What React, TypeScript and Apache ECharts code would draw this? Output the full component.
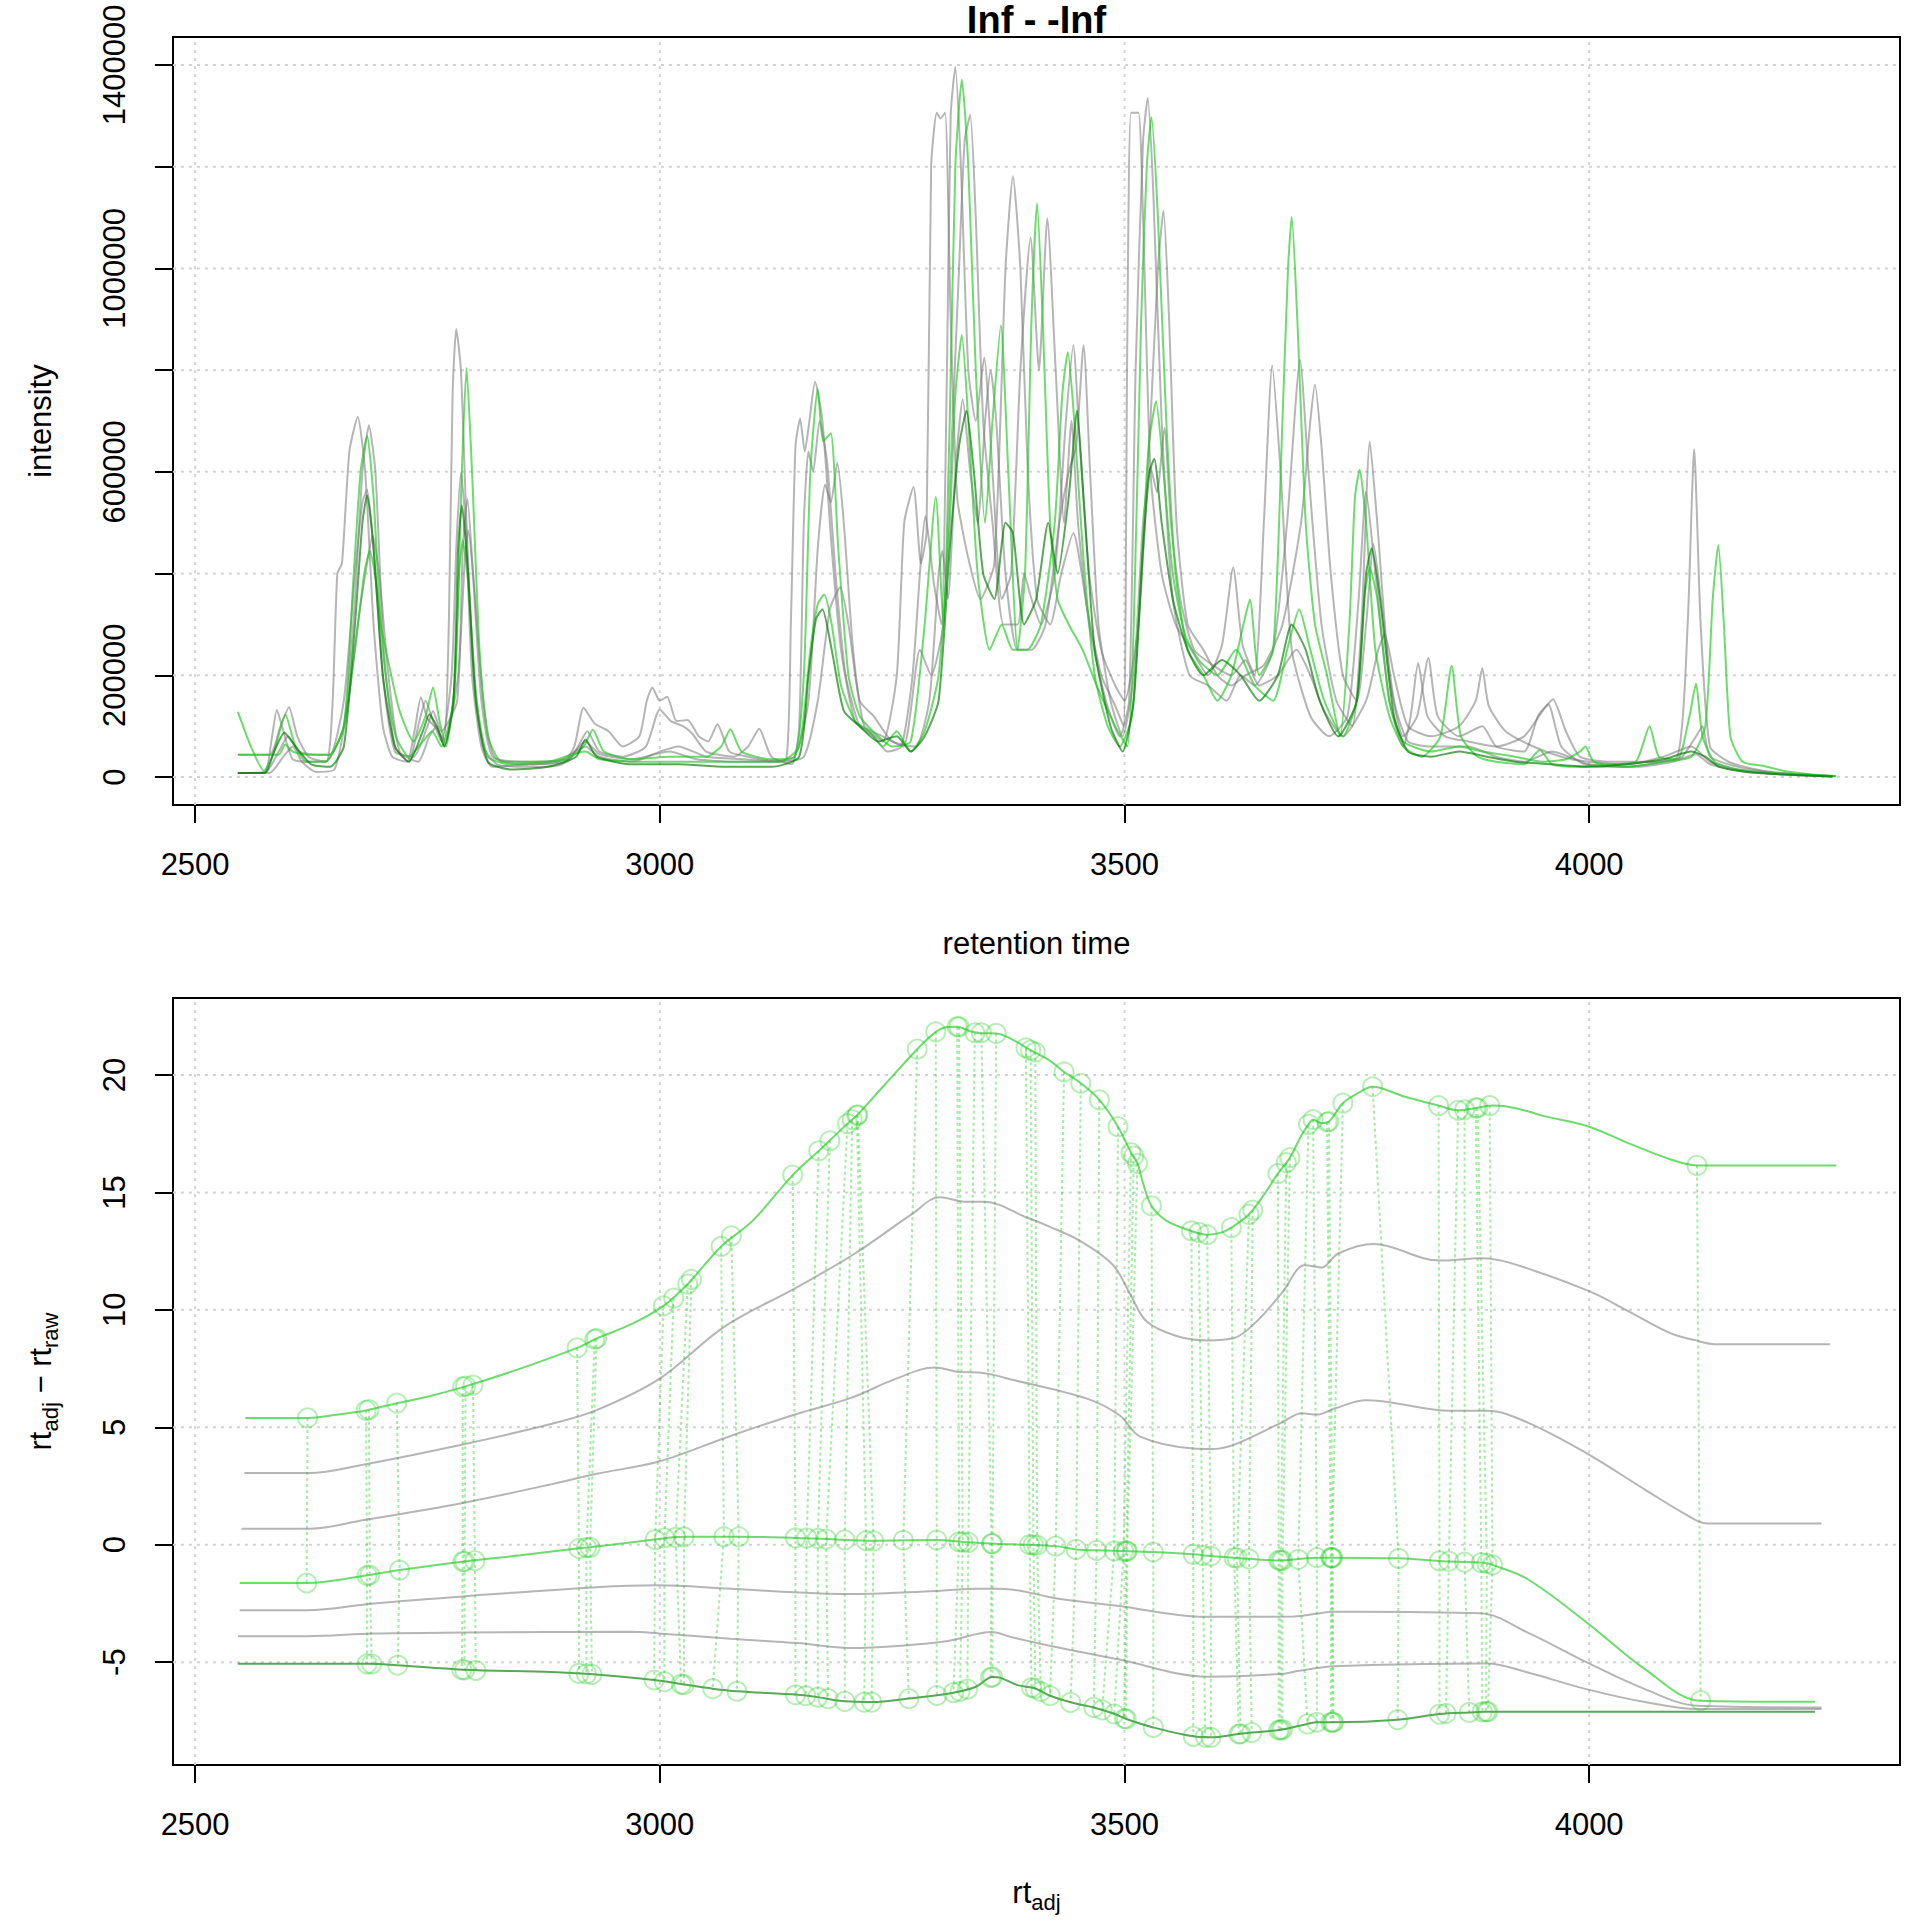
import React, { useEffect, useRef } from 'react';
import * as echarts from 'echarts';

const FONT = "'Liberation Sans', Arial, Helvetica, sans-serif";

// ---------- axes ----------
const X_MIN = 2476.2;
const X_MAX = 4334.5;
const X_TICKS = [2500, 3000, 3500, 4000];
const TOP_Y_MIN = -55000;
const TOP_Y_MAX = 1455000;
const TOP_Y_TICKS = [0, 200000, 400000, 600000, 800000, 1000000, 1200000, 1400000];
const TOP_Y_LABELS = [0, 200000, 600000, 1000000, 1400000];
const BOT_Y_MIN = -9.38;
const BOT_Y_MAX = 23.28;
const BOT_Y_TICKS = [-5, 0, 5, 10, 15, 20];

// ---------- top panel: chromatograms [retention time, intensity] ----------
const chromGrayA = [[2546,8000],[2575,10000],[2582,70000],[2588,132000],[2595,90000],[2605,35000],[2625,30000],[2642,32000],[2648,150000],[2653,400000],[2658,420000],[2666,640000],[2675,708000],[2683,600000],[2692,300000],[2702,100000],[2712,40000],[2728,30000],[2736,90000],[2743,157000],[2750,115000],[2760,95000],[2768,70000],[2773,300000],[2777,750000],[2781,881000],[2786,800000],[2792,500000],[2800,200000],[2810,60000],[2825,25000],[2860,20000],[2895,25000],[2908,60000],[2918,136000],[2930,105000],[2945,90000],[2960,60000],[2978,80000],[2986,150000],[2992,176000],[3000,150000],[3008,158000],[3018,110000],[3030,112000],[3042,80000],[3052,70000],[3062,104000],[3075,50000],[3095,40000],[3120,32000],[3136,35000],[3141,300000],[3146,650000],[3151,705000],[3156,640000],[3161,700000],[3167,777000],[3175,700000],[3185,450000],[3195,250000],[3210,110000],[3225,90000],[3240,70000],[3255,200000],[3263,500000],[3273,570000],[3281,420000],[3287,480000],[3292,1200000],[3298,1306000],[3302,1295000],[3307,1306000],[3313,900000],[3320,550000],[3332,430000],[3345,350000],[3360,420000],[3372,1000000],[3380,1181000],[3388,1000000],[3396,600000],[3406,350000],[3420,300000],[3432,400000],[3445,480000],[3460,330000],[3475,200000],[3490,140000],[3499,100000],[3503,850000],[3507,1306000],[3515,1306000],[3520,1100000],[3528,600000],[3540,400000],[3555,300000],[3572,250000],[3590,200000],[3605,260000],[3617,412000],[3627,260000],[3640,200000],[3650,500000],[3659,809000],[3668,600000],[3680,250000],[3700,120000],[3720,80000],[3740,120000],[3752,350000],[3760,561000],[3770,400000],[3785,150000],[3800,60000],[3808,120000],[3816,224000],[3826,120000],[3845,80000],[3870,70000],[3900,60000],[3930,80000],[3950,130000],[3961,153000],[3975,90000],[3990,40000],[4020,30000],[4060,30000],[4095,40000],[4106,300000],[4113,645000],[4120,300000],[4130,60000],[4150,30000],[4180,15000],[4220,6000],[4265,2000]];

const chromGrayB = [[2546,44000],[2580,44000],[2592,100000],[2601,137000],[2610,80000],[2622,40000],[2640,30000],[2660,100000],[2672,350000],[2680,600000],[2687,691000],[2694,600000],[2703,250000],[2715,60000],[2730,30000],[2740,100000],[2748,150000],[2756,110000],[2765,70000],[2776,200000],[2781,450000],[2786,598000],[2791,500000],[2798,200000],[2808,60000],[2820,20000],[2860,25000],[2900,30000],[2912,60000],[2922,90000],[2935,50000],[2960,40000],[2985,60000],[3000,133000],[3012,110000],[3025,100000],[3035,85000],[3050,50000],[3080,40000],[3095,60000],[3107,95000],[3120,40000],[3142,25000],[3150,100000],[3155,500000],[3160,640000],[3165,600000],[3172,700000],[3180,620000],[3190,380000],[3200,200000],[3215,100000],[3230,80000],[3245,50000],[3260,60000],[3272,200000],[3286,513000],[3295,380000],[3303,300000],[3309,800000],[3313,1300000],[3318,1396000],[3324,1200000],[3332,800000],[3340,700000],[3349,825000],[3358,600000],[3368,350000],[3378,400000],[3388,800000],[3399,1061000],[3408,800000],[3417,1098000],[3426,800000],[3435,500000],[3443,700000],[3450,500000],[3462,300000],[3480,150000],[3495,80000],[3505,150000],[3512,800000],[3520,1250000],[3525,1335000],[3531,1150000],[3540,700000],[3552,350000],[3570,200000],[3590,180000],[3610,150000],[3625,200000],[3640,180000],[3660,250000],[3675,500000],[3689,820000],[3698,600000],[3712,300000],[3728,150000],[3745,100000],[3755,300000],[3764,659000],[3772,500000],[3785,200000],[3800,80000],[3815,120000],[3827,234000],[3837,120000],[3860,80000],[3885,100000],[3900,60000],[3930,50000],[3945,120000],[3956,143000],[3970,60000],[3995,25000],[4040,20000],[4080,30000],[4100,40000],[4115,80000],[4122,100000],[4130,40000],[4160,20000],[4200,8000],[4262,2000]];

const chromGrayC = [[2546,8000],[2575,8000],[2590,50000],[2600,80000],[2612,50000],[2630,44000],[2645,44000],[2660,150000],[2672,400000],[2680,540000],[2685,565000],[2692,450000],[2702,200000],[2715,50000],[2735,40000],[2750,100000],[2756,130000],[2765,90000],[2782,150000],[2788,450000],[2793,547000],[2799,400000],[2808,150000],[2820,40000],[2850,30000],[2900,35000],[2920,70000],[2935,45000],[2970,35000],[3010,50000],[3040,35000],[3080,30000],[3120,30000],[3145,40000],[3160,150000],[3170,450000],[3178,575000],[3184,540000],[3191,618000],[3198,500000],[3208,250000],[3220,100000],[3240,80000],[3262,60000],[3280,250000],[3292,200000],[3305,300000],[3315,700000],[3322,1000000],[3328,1250000],[3334,1302000],[3340,1100000],[3348,700000],[3358,500000],[3370,300000],[3385,300000],[3392,400000],[3400,350000],[3410,300000],[3425,400000],[3437,700000],[3445,849000],[3452,650000],[3462,400000],[3475,250000],[3490,180000],[3500,150000],[3515,300000],[3528,700000],[3536,1000000],[3542,1114000],[3548,900000],[3556,500000],[3568,300000],[3585,250000],[3600,200000],[3615,180000],[3630,200000],[3650,220000],[3670,300000],[3690,500000],[3700,700000],[3705,772000],[3712,650000],[3722,400000],[3735,200000],[3750,150000],[3760,300000],[3768,458000],[3776,350000],[3790,150000],[3805,70000],[3830,60000],[3870,60000],[3900,40000],[3930,30000],[3960,50000],[4000,25000],[4050,20000],[4090,30000],[4115,45000],[4130,25000],[4170,10000],[4220,4000],[4262,1000]];

const chromGrayD = [[2546,8000],[2580,8000],[2595,40000],[2605,60000],[2615,30000],[2630,10000],[2650,15000],[2665,150000],[2675,300000],[2685,420000],[2691,475000],[2698,400000],[2708,200000],[2720,50000],[2740,30000],[2752,80000],[2760,100000],[2768,60000],[2783,200000],[2790,420000],[2794,485000],[2800,380000],[2810,150000],[2822,40000],[2850,25000],[2890,30000],[2920,60000],[2935,40000],[2970,30000],[3000,50000],[3020,60000],[3050,40000],[3090,35000],[3130,30000],[3155,40000],[3170,150000],[3183,330000],[3194,373000],[3203,300000],[3215,150000],[3230,120000],[3250,70000],[3275,60000],[3290,150000],[3300,400000],[3304,445000],[3310,350000],[3318,600000],[3326,743000],[3334,600000],[3342,500000],[3350,700000],[3356,800000],[3362,700000],[3372,400000],[3385,250000],[3400,250000],[3415,300000],[3430,500000],[3440,600000],[3448,650000],[3456,849000],[3463,600000],[3472,300000],[3485,150000],[3498,80000],[3510,200000],[3520,500000],[3528,609000],[3535,560000],[3543,686000],[3550,500000],[3560,350000],[3575,250000],[3595,220000],[3615,200000],[3630,230000],[3645,180000],[3665,200000],[3685,250000],[3700,200000],[3715,130000],[3735,80000],[3760,150000],[3773,250000],[3780,280000],[3790,200000],[3805,100000],[3830,80000],[3860,100000],[3878,150000],[3885,214000],[3892,140000],[3910,90000],[3940,60000],[3970,40000],[4000,30000],[4040,25000],[4080,40000],[4110,60000],[4130,30000],[4160,15000],[4210,5000],[4262,1000]];

const chromGreen1 = [[2546,128000],[2560,60000],[2574,12000],[2585,50000],[2597,123000],[2608,60000],[2620,30000],[2640,30000],[2660,100000],[2670,380000],[2678,600000],[2685,671000],[2692,550000],[2700,300000],[2710,209000],[2720,130000],[2735,70000],[2748,120000],[2756,176000],[2763,110000],[2770,60000],[2780,200000],[2787,600000],[2792,804000],[2798,600000],[2806,250000],[2815,80000],[2830,30000],[2860,30000],[2900,35000],[2918,60000],[2928,93000],[2940,50000],[2970,35000],[3010,40000],[3050,40000],[3066,60000],[3076,94000],[3088,50000],[3120,35000],[3145,40000],[3155,200000],[3162,600000],[3170,763000],[3176,660000],[3184,676000],[3192,450000],[3203,200000],[3215,120000],[3235,80000],[3250,60000],[3270,70000],[3285,300000],[3297,551000],[3305,300000],[3312,700000],[3318,1200000],[3325,1371000],[3332,1200000],[3340,800000],[3350,500000],[3358,700000],[3367,888000],[3375,600000],[3385,250000],[3393,400000],[3400,900000],[3406,1128000],[3412,900000],[3420,500000],[3428,350000],[3440,300000],[3455,250000],[3470,180000],[3490,100000],[3503,60000],[3510,300000],[3518,900000],[3524,1200000],[3529,1297000],[3536,1100000],[3545,700000],[3555,400000],[3568,250000],[3585,200000],[3600,150000],[3615,200000],[3628,300000],[3635,349000],[3645,200000],[3660,250000],[3670,700000],[3676,1000000],[3680,1101000],[3686,900000],[3695,500000],[3705,300000],[3718,200000],[3732,80000],[3742,300000],[3748,550000],[3753,604000],[3760,500000],[3770,250000],[3785,120000],[3800,60000],[3820,40000],[3840,80000],[3852,219000],[3862,80000],[3880,40000],[3900,30000],[3930,25000],[3947,53000],[3960,25000],[3990,20000],[4020,25000],[4050,30000],[4065,100000],[4075,40000],[4095,35000],[4108,120000],[4115,184000],[4122,80000],[4135,30000],[4160,15000],[4200,8000],[4265,2000]];

const chromGreen2 = [[2546,44000],[2590,44000],[2597,64000],[2605,50000],[2620,44000],[2645,44000],[2660,100000],[2672,250000],[2682,400000],[2688,445000],[2695,380000],[2705,200000],[2716,80000],[2730,40000],[2745,70000],[2755,90000],[2765,60000],[2778,150000],[2784,400000],[2788,465000],[2794,380000],[2803,150000],[2815,40000],[2840,25000],[2880,30000],[2920,50000],[2935,35000],[2980,30000],[3030,30000],[3080,30000],[3130,30000],[3150,60000],[3162,250000],[3170,340000],[3177,359000],[3185,300000],[3195,180000],[3210,110000],[3225,90000],[3240,60000],[3255,90000],[3270,50000],[3285,90000],[3300,200000],[3312,500000],[3318,750000],[3325,869000],[3332,700000],[3342,400000],[3355,250000],[3368,300000],[3380,250000],[3395,250000],[3410,300000],[3425,500000],[3433,750000],[3439,835000],[3446,700000],[3455,450000],[3468,200000],[3482,100000],[3495,60000],[3508,120000],[3518,400000],[3526,650000],[3534,739000],[3542,600000],[3552,400000],[3565,280000],[3580,230000],[3600,200000],[3620,250000],[3640,180000],[3660,150000],[3675,250000],[3688,330000],[3700,250000],[3715,150000],[3735,80000],[3750,150000],[3758,350000],[3764,412000],[3772,350000],[3785,150000],[3800,70000],[3830,50000],[3860,60000],[3885,50000],[3920,40000],[3950,30000],[3975,35000],[3990,50000],[3996,60000],[4005,30000],[4040,20000],[4080,30000],[4110,40000],[4125,100000],[4133,350000],[4139,456000],[4145,300000],[4152,80000],[4165,30000],[4187,22000],[4210,12000],[4240,5000],[4266,1000]];

const chromGreen3 = [[2546,8000],[2575,8000],[2585,50000],[2596,87000],[2608,60000],[2625,25000],[2645,20000],[2660,60000],[2672,300000],[2680,500000],[2685,554000],[2692,450000],[2702,200000],[2715,60000],[2730,30000],[2745,90000],[2752,123000],[2760,100000],[2768,60000],[2778,150000],[2783,450000],[2787,534000],[2793,420000],[2802,150000],[2815,30000],[2840,15000],[2880,20000],[2910,40000],[2920,74000],[2932,40000],[2970,25000],[3020,25000],[3070,20000],[3120,20000],[3150,40000],[3160,200000],[3168,310000],[3175,330000],[3185,250000],[3198,130000],[3215,100000],[3235,70000],[3255,80000],[3270,50000],[3285,80000],[3300,150000],[3312,450000],[3322,650000],[3330,720000],[3338,600000],[3348,400000],[3360,350000],[3372,500000],[3380,480000],[3392,300000],[3405,350000],[3418,500000],[3428,400000],[3440,550000],[3449,720000],[3456,550000],[3468,250000],[3485,100000],[3498,50000],[3510,150000],[3520,450000],[3527,600000],[3532,626000],[3540,500000],[3552,350000],[3568,250000],[3585,200000],[3605,230000],[3625,200000],[3645,150000],[3665,200000],[3680,300000],[3695,250000],[3710,150000],[3730,80000],[3750,150000],[3760,400000],[3766,450000],[3775,350000],[3790,120000],[3805,50000],[3830,40000],[3860,50000],[3890,40000],[3920,30000],[3960,25000],[4000,20000],[4040,25000],[4080,35000],[4110,50000],[4125,40000],[4140,20000],[4170,10000],[4210,5000],[4262,1000]];

// ---------- bottom panel: rt_adj - rt_raw curves [rt_adj, difference] ----------
const adjGreenTop = [[2554,5.4],[2621,5.4],[2650,5.52],[2685,5.73],[2717,6.02],[2750,6.3],[2790,6.73],[2850,7.5],[2911,8.38],[2932,8.78],[2970,9.4],[3004,10.17],[3030,11.1],[3066,12.7],[3100,13.8],[3143,15.74],[3171,16.77],[3202,17.93],[3212,18.28],[3240,19.5],[3277,21.1],[3297,21.84],[3310,22.05],[3320,22.06],[3335,21.85],[3346,21.78],[3362,21.77],[3380,21.5],[3399,21.06],[3420,20.6],[3435,20.13],[3453,19.65],[3473,18.94],[3493,17.8],[3507,16.7],[3514,16.24],[3520,15.4],[3529,14.43],[3545,13.8],[3572,13.36],[3589,13.2],[3605,13.3],[3615,13.5],[3634,14.07],[3650,14.9],[3665,15.8],[3678,16.48],[3690,17.4],[3698,17.9],[3703,18.1],[3712,17.95],[3720,18.02],[3735,18.8],[3750,19.2],[3767,19.5],[3800,19.1],[3838,18.7],[3859,18.5],[3878,18.6],[3897,18.7],[3920,18.6],[3952,18.25],[4000,17.8],[4042,17.1],[4088,16.4],[4116,16.15],[4266,16.15]];
const adjGray1 = [[2553,3.05],[2622,3.05],[2682,3.42],[2788,4.27],[2884,5.15],[2932,5.73],[2999,7.05],[3070,9.3],[3147,10.95],[3210,12.4],[3272,14.1],[3301,14.8],[3330,14.6],[3349,14.6],[3397,13.9],[3416,13.6],[3454,12.9],[3488,11.9],[3507,10.6],[3524,9.5],[3555,8.9],[3589,8.7],[3618,8.8],[3642,9.5],[3669,10.7],[3694,11.9],[3705,11.85],[3712,11.8],[3730,12.4],[3768,12.8],[3839,12.1],[3884,12.2],[3915,12.0],[4000,10.8],[4042,9.95],[4088,9.0],[4115,8.7],[4135,8.54],[4259,8.54]];
const adjGray2 = [[2550,0.68],[2622,0.68],[2682,1.05],[2788,1.78],[2884,2.58],[2932,3.02],[2999,3.54],[3076,4.63],[3148,5.58],[3205,6.24],[3253,7.05],[3296,7.55],[3322,7.36],[3344,7.33],[3382,7.0],[3461,6.2],[3495,5.5],[3517,4.6],[3574,4.1],[3596,4.08],[3618,4.26],[3669,5.2],[3691,5.6],[3707,5.54],[3726,5.8],[3760,6.15],[3852,5.7],[3890,5.7],[3934,5.2],[3997,3.9],[4060,2.35],[4101,1.36],[4127,0.9],[4250,0.9]];
const adjGreenMid = [[2548,-1.63],[2620,-1.63],[2686,-1.3],[2720,-1.08],[2789,-0.71],[2850,-0.45],[2913,-0.15],[2925,-0.11],[2994,0.22],[3009,0.3],[3028,0.34],[3085,0.34],[3146,0.29],[3179,0.24],[3230,0.17],[3298,0.2],[3332,0.1],[3366,0.03],[3398,0.0],[3426,-0.06],[3448,-0.2],[3470,-0.24],[3502,-0.27],[3531,-0.31],[3574,-0.41],[3593,-0.48],[3618,-0.55],[3634,-0.6],[3668,-0.67],[3685,-0.62],[3707,-0.55],[3723,-0.55],[3795,-0.58],[3839,-0.69],[3868,-0.74],[3887,-0.77],[3896,-0.86],[3934,-1.47],[3997,-3.3],[4060,-5.3],[4120,-6.64],[4243,-6.69]];
const adjGray3 = [[2548,-2.79],[2620,-2.79],[2692,-2.5],[2788,-2.2],[2932,-1.81],[2999,-1.73],[3076,-1.88],[3205,-2.1],[3280,-2.0],[3340,-1.88],[3366,-1.87],[3429,-2.3],[3492,-2.6],[3587,-3.07],[3682,-3.06],[3726,-2.85],[3745,-2.85],[3883,-2.92],[3934,-3.74],[3997,-5.0],[4060,-6.15],[4117,-6.86],[4250,-6.93]];
const adjGray4 = [[2546,-3.9],[2620,-3.9],[2692,-3.78],[2788,-3.74],[2970,-3.71],[2999,-3.78],[3076,-4.0],[3148,-4.19],[3205,-4.4],[3260,-4.3],[3310,-4.1],[3357,-3.72],[3380,-3.95],[3429,-4.38],[3492,-4.87],[3590,-5.62],[3669,-5.5],[3688,-5.37],[3726,-5.18],[3890,-5.06],[3934,-5.44],[3997,-6.15],[4060,-6.7],[4117,-7.0],[4250,-7.0]];
const adjGreenLow = [[2546,-5.07],[2686,-5.07],[2717,-5.13],[2788,-5.32],[2884,-5.42],[2925,-5.51],[2994,-5.76],[3026,-5.95],[3057,-6.13],[3083,-6.24],[3148,-6.39],[3170,-6.49],[3199,-6.67],[3228,-6.7],[3268,-6.55],[3316,-6.3],[3340,-6.05],[3358,-5.63],[3366,-5.66],[3385,-5.98],[3404,-6.12],[3420,-6.43],[3442,-6.71],[3467,-6.93],[3489,-7.2],[3502,-7.42],[3531,-7.78],[3574,-8.16],[3593,-8.2],[3623,-8.06],[3637,-8.0],[3668,-7.88],[3697,-7.63],[3707,-7.56],[3724,-7.56],[3794,-7.45],[3839,-7.21],[3871,-7.14],[3889,-7.11],[4243,-7.11]];

// ---------- bottom panel: peak groups (one entry per group, per green sample) ----------
const grpRtTop = [2621,2684,2687,2717,2788,2791,2799,2911,2930,2932,3004,3015,3030,3034,3066,3077,3143,3171,3183,3202,3207,3212,3213,3277,3297,3320,3322,3339,3346,3362,3394,3399,3404,3435,3453,3473,3493,3507,3510,3514,3529,3572,3580,3589,3615,3634,3638,3665,3674,3678,3698,3703,3718,3720,3735,3767,3838,3859,3866,3878,3880,3893,4116];
const grpAdjTop = [5.40,5.72,5.75,6.03,6.72,6.75,6.80,8.38,8.75,8.78,10.17,10.50,11.10,11.30,12.70,13.15,15.74,16.77,17.20,17.93,18.10,18.28,18.30,21.10,21.84,22.06,22.05,21.80,21.80,21.77,21.16,21.06,20.98,20.13,19.65,18.94,17.80,16.70,16.55,16.24,14.43,13.36,13.30,13.20,13.50,14.07,14.25,15.80,16.27,16.48,17.90,18.10,18.00,18.02,18.80,19.50,18.70,18.50,18.52,18.60,18.60,18.70,16.15];
const grpRtMid = [2620,2685,2688,2720,2788,2790,2801,2913,2921,2925,2995,3005,3017,3026,3069,3085,3146,3158,3170,3179,3199,3222,3230,3262,3298,3322,3326,3332,3357,3358,3398,3402,3406,3426,3448,3470,3489,3499,3502,3503,3531,3574,3584,3593,3618,3621,3634,3666,3668,3670,3687,3707,3722,3724,3723,3795,3839,3849,3866,3884,3890,3896,4120];
const grpAdjMid = [-1.63,-1.31,-1.29,-1.08,-0.72,-0.71,-0.68,-0.16,-0.12,-0.11,0.22,0.29,0.31,0.33,0.34,0.34,0.29,0.29,0.27,0.24,0.21,0.17,0.16,0.19,0.20,0.12,0.11,0.10,0.05,0.05,0.00,-0.01,-0.02,-0.06,-0.20,-0.24,-0.26,-0.27,-0.27,-0.27,-0.31,-0.41,-0.45,-0.48,-0.55,-0.56,-0.60,-0.66,-0.67,-0.67,-0.62,-0.55,-0.55,-0.55,-0.55,-0.58,-0.69,-0.70,-0.74,-0.76,-0.80,-0.86,-6.64];
const grpRtLow = [null,2685,2690,2718,2787,2790,2802,2913,2921,2927,2994,3005,3023,3026,3057,3083,3146,3157,3170,3181,3199,3220,3228,3268,3298,3316,3323,3331,3356,3358,3400,3404,3410,3420,3442,3467,3476,3489,3500,3502,3531,3574,3587,3593,3623,3625,3637,3666,3668,3670,3697,3707,3722,3725,3724,3794,3839,3846,3871,3885,3889,3891,null];
const grpAdjLow = [null,-5.07,-5.07,-5.13,-5.32,-5.33,-5.35,-5.48,-5.50,-5.52,-5.76,-5.83,-5.94,-5.96,-6.13,-6.24,-6.39,-6.43,-6.49,-6.55,-6.67,-6.70,-6.70,-6.55,-6.42,-6.30,-6.25,-6.15,-5.65,-5.63,-6.08,-6.12,-6.25,-6.43,-6.71,-6.93,-7.03,-7.20,-7.40,-7.42,-7.78,-8.16,-8.19,-8.20,-8.06,-8.05,-8.00,-7.89,-7.88,-7.87,-7.63,-7.56,-7.56,-7.56,-7.56,-7.45,-7.21,-7.18,-7.14,-7.12,-7.11,-7.11,null];

// ---------- styles ----------
const GRAY = 'rgba(120,120,120,0.55)';
const LIGHT_GREEN = 'rgba(30,200,30,0.65)';
const DARK_GREEN = 'rgba(0,120,0,0.65)';
const CIRCLE_GREEN = 'rgba(40,205,40,0.42)';
const GRID_COLOR = '#d3d3d3';

function buildOption() {
  const series: any[] = [];

  // grid lines (R grid(): lightgray dotted)
  const gridLine = (gi: number, data: number[][]) => ({
    type: 'line', xAxisIndex: gi, yAxisIndex: gi, data, symbol: 'none', silent: true, z: 1,
    lineStyle: { color: GRID_COLOR, width: 2, type: [3, 5] },
  });
  X_TICKS.forEach((t) => {
    series.push(gridLine(0, [[t, TOP_Y_MIN], [t, TOP_Y_MAX]]));
    series.push(gridLine(1, [[t, BOT_Y_MIN], [t, BOT_Y_MAX]]));
  });
  TOP_Y_TICKS.forEach((v) => series.push(gridLine(0, [[X_MIN, v], [X_MAX, v]])));
  BOT_Y_TICKS.forEach((v) => series.push(gridLine(1, [[X_MIN, v], [X_MAX, v]])));

  const curve = (gi: number, data: number[][], color: string, smooth: number) => ({
    type: 'line', xAxisIndex: gi, yAxisIndex: gi, data, symbol: 'none', showSymbol: false,
    smooth, silent: true, z: 2, lineStyle: { color, width: 2 },
  });

  // top panel
  [chromGrayA, chromGrayB, chromGrayC, chromGrayD].forEach((d) => series.push(curve(0, d, GRAY, 0.2)));
  series.push(curve(0, chromGreen1, LIGHT_GREEN, 0.2));
  series.push(curve(0, chromGreen2, LIGHT_GREEN, 0.2));
  series.push(curve(0, chromGreen3, DARK_GREEN, 0.2));

  // bottom panel
  [adjGray1, adjGray2, adjGray3, adjGray4].forEach((d) => series.push(curve(1, d, GRAY, 0.35)));
  series.push(curve(1, adjGreenTop, LIGHT_GREEN, 0.35));
  series.push(curve(1, adjGreenMid, LIGHT_GREEN, 0.35));
  series.push(curve(1, adjGreenLow, DARK_GREEN, 0.35));

  // peak-group connectors and points
  const links: any[] = [];
  const points: number[][] = [];
  grpRtTop.forEach((_, i) => {
    const pts: number[][] = [];
    if (grpRtTop[i] != null) pts.push([grpRtTop[i], grpAdjTop[i]]);
    if (grpRtMid[i] != null) pts.push([grpRtMid[i] as number, grpAdjMid[i] as number]);
    if (grpRtLow[i] != null) pts.push([grpRtLow[i] as number, grpAdjLow[i] as number]);
    pts.forEach((p) => points.push(p));
    if (pts.length > 1) links.push({ coords: pts });
  });
  series.push({
    type: 'lines', coordinateSystem: 'cartesian2d', xAxisIndex: 1, yAxisIndex: 1,
    polyline: true, silent: true, z: 2, data: links,
    lineStyle: { color: CIRCLE_GREEN, width: 2, type: [3, 3], opacity: 1 },
  });
  series.push({
    type: 'scatter', xAxisIndex: 1, yAxisIndex: 1, data: points, symbol: 'circle', symbolSize: 19,
    silent: true, z: 3,
    itemStyle: { color: 'rgba(0,0,0,0)', borderColor: CIRCLE_GREEN, borderWidth: 2 },
  });

  const axisLine = { show: true, onZero: false, lineStyle: { color: '#000', width: 2 } };
  const tickStyle = { color: '#000', width: 2 };
  const labelStyle = { fontSize: 31, color: '#000', fontFamily: FONT };
  const xAxis = (gi: number, extra: any) => ({
    type: 'value', gridIndex: gi, min: X_MIN, max: X_MAX, position: 'bottom',
    axisLine,
    axisTick: { show: true, inside: false, customValues: X_TICKS, length: 18, lineStyle: tickStyle },
    axisLabel: { ...labelStyle, customValues: X_TICKS, margin: 44, formatter: (v: number) => String(v) },
    splitLine: { show: false },
    nameLocation: 'middle',
    ...extra,
  });
  const yAxis = (gi: number, min: number, max: number, ticks: number[], labels: number[], extra: any) => ({
    type: 'value', gridIndex: gi, min, max, position: 'left',
    axisLine,
    axisTick: { show: true, inside: false, customValues: ticks, length: 18, lineStyle: tickStyle },
    axisLabel: { ...labelStyle, customValues: labels, rotate: 90, margin: 43, formatter: (v: number) => String(v) },
    splitLine: { show: false },
    nameLocation: 'middle', nameRotate: 90,
    ...extra,
  });

  const richSub = {
    b: { fontSize: 31, fontFamily: FONT, color: '#000' },
    s: { fontSize: 22, fontFamily: FONT, color: '#000', padding: [20, 0, 0, 0] },
  };

  return {
    animation: false,
    backgroundColor: '#fff',
    textStyle: { fontFamily: FONT },
    grid: [
      { left: 173, right: 20, top: 37, height: 768, show: true, borderColor: '#000', borderWidth: 2, backgroundColor: 'transparent' },
      { left: 173, right: 20, top: 998, height: 767, show: true, borderColor: '#000', borderWidth: 2, backgroundColor: 'transparent' },
    ],
    xAxis: [
      xAxis(0, { name: 'retention time', nameGap: 123, nameTextStyle: { fontSize: 31, color: '#000', fontFamily: FONT } }),
      xAxis(1, { name: '{b|rt}{s|adj}', nameGap: 106, nameTextStyle: { rich: richSub } }),
    ],
    yAxis: [
      yAxis(0, TOP_Y_MIN, TOP_Y_MAX, TOP_Y_TICKS, TOP_Y_LABELS, { name: 'intensity', nameGap: 117, nameTextStyle: { fontSize: 31, color: '#000', fontFamily: FONT } }),
      yAxis(1, BOT_Y_MIN, BOT_Y_MAX, BOT_Y_TICKS, BOT_Y_TICKS, { name: '{b|rt}{s|adj}{b| \u2212 rt}{s|raw}', nameGap: 112, nameTextStyle: { rich: richSub } }),
    ],
    graphic: [
      {
        type: 'text', x: 1036.5, y: 20,
        style: { text: 'Inf - -Inf', fontSize: 38, fontWeight: 'bold', fontFamily: FONT, fill: '#000', textAlign: 'center', textVerticalAlign: 'middle', align: 'center', verticalAlign: 'middle' },
      },
    ],
    series,
  };
}

export default function App() {
  const ref = useRef<HTMLDivElement>(null);
  useEffect(() => {
    if (!ref.current) return;
    const chart = echarts.init(ref.current, null, { renderer: 'svg' });
    chart.setOption(buildOption() as any);
    return () => chart.dispose();
  }, []);
  return (
    <div
      ref={ref}
      style={{ position: 'fixed', left: 0, top: 0, width: 1920, height: 1920, background: '#fff' }}
    />
  );
}
